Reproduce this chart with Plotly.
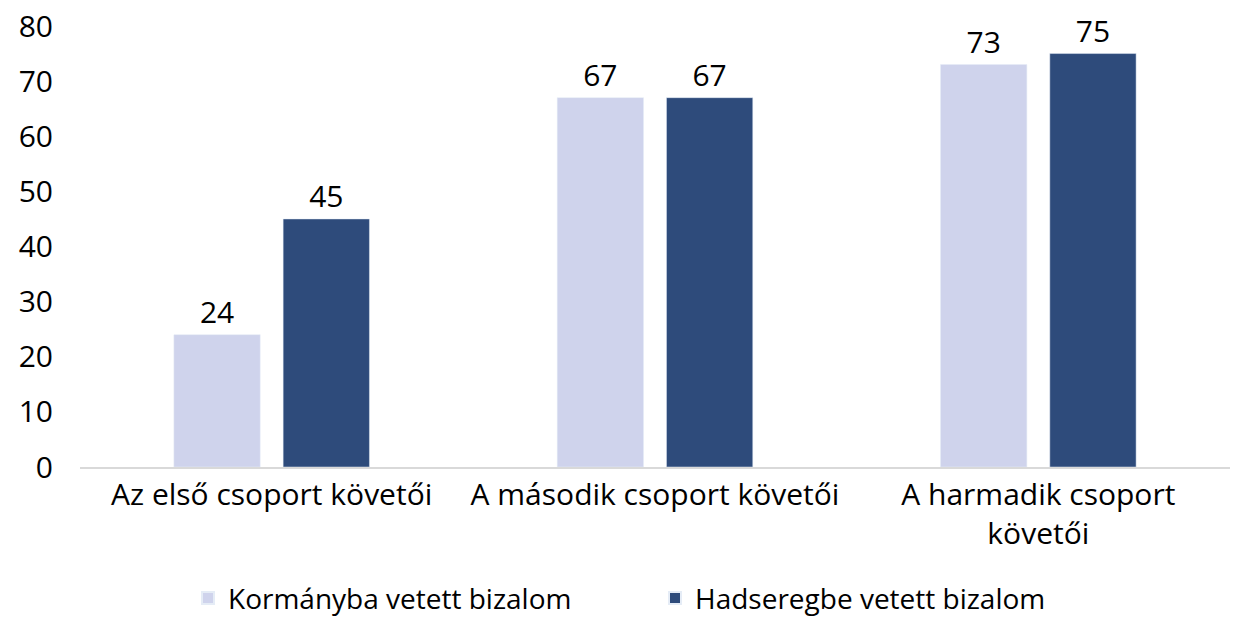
import plotly.graph_objects as go

# adatok
categories = ["Az első csoport követői", "A második csoport követői", "A harmadik csoport<br>követői"]
kormany = [24, 67, 73]
hadsereg = [45, 67, 75]
series_names = ["Kormányba vetett bizalom", "Hadseregbe vetett bizalom"]
y_ticks = [0, 10, 20, 30, 40, 50, 60, 70, 80]

font_family = "'Open Sans', sans-serif"

fig = go.Figure()
fig.add_trace(go.Bar(
    x=categories, y=kormany, name=series_names[0],
    marker=dict(color="#CFD3EC"),
    text=kormany, textposition="outside", cliponaxis=False,
    textfont=dict(size=30, color="#000000"),
))
fig.add_trace(go.Bar(
    x=categories, y=hadsereg, name=series_names[1],
    marker=dict(color="#2E4B7B"),
    text=hadsereg, textposition="outside", cliponaxis=False,
    textfont=dict(size=30, color="#000000"),
))

fig.update_layout(
    width=1233, height=619,
    margin=dict(l=80, r=3, t=26, b=152, autoexpand=False),
    plot_bgcolor="white", paper_bgcolor="white",
    font=dict(family=font_family, size=30, color="#000000"),
    barmode="group", bargap=0.43, bargroupgap=0.21,
    showlegend=True,
    legend=dict(
        orientation="h", x=0.5, xanchor="center",
        y=-0.298, yanchor="middle",
        font=dict(size=28), itemsizing="constant",
        traceorder="normal", itemwidth=30,
        entrywidth=422, entrywidthmode="pixels",
    ),
    xaxis=dict(
        showline=True, linecolor="#D9D9D9", linewidth=2,
        showgrid=False, ticks="", tickfont=dict(size=30),
        automargin=False,
    ),
    yaxis=dict(
        range=[0, 80], tickvals=y_ticks, showgrid=False, zeroline=False,
        showline=False, ticks="", tickfont=dict(size=30), ticklabelstandoff=26,
        automargin=False,
    ),
)

# oldal margó nélkül
fig.write_html("out.html", config={"displayModeBar": False},
               post_script="document.body.style.margin='0';")
